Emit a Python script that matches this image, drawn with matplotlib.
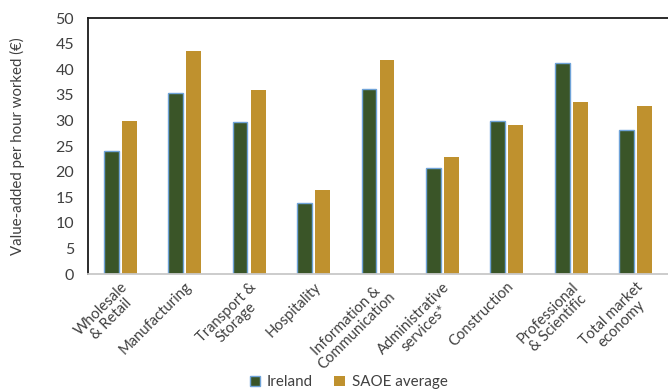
import matplotlib
matplotlib.use("Agg")
import matplotlib.pyplot as plt
import numpy as np

categories = ["Wholesale\n& Retail", "Manufacturing", "Transport &\nStorage", "Hospitality",
              "Information &\nCommunication", "Administrative\nservices*", "Construction",
              "Professional\n& Scientific", "Total market\neconomy"]
ireland = [24.1, 35.3, 29.6, 13.8, 36.1, 20.8, 29.8, 41.3, 28.1]
saoe = [29.9, 43.6, 35.9, 16.4, 41.8, 22.9, 29.1, 33.6, 32.8]
yticks = list(range(0, 51, 5))

plt.rcParams['font.family'] = ['Lato', 'DejaVu Sans']
text_color = '#404040'

fig = plt.figure(figsize=(6.68, 3.9), dpi=100)
ax = fig.add_axes([0.1317, 0.2974, 0.8683, 0.6564])

x = np.arange(len(categories))
w = 0.23
off = 0.14
ax.bar(x - off, ireland, w, color='#3A5528', edgecolor='#6FA3D8', linewidth=1.0, label='Ireland')
ax.bar(x + off, saoe, w, color='#BF912E', label='SAOE average')

ax.set_xlim(-0.5, len(categories) - 0.5)
ax.set_ylim(0, 50)
ax.set_yticks(yticks)
ax.set_xticks(x)
ax.set_xticklabels(categories, rotation=45, ha='right', va='top', rotation_mode='anchor',
                   fontsize=10.6, color=text_color, linespacing=1.05, multialignment='center')
ax.tick_params(axis='y', length=0, labelsize=11.5, labelcolor=text_color, pad=10)
ax.tick_params(axis='x', length=0, pad=4)

ax.spines['right'].set_visible(False)
ax.spines['top'].set_color('#1a1a1a')
ax.spines['left'].set_color('#1a1a1a')
ax.spines['top'].set_linewidth(1.3)
ax.spines['left'].set_linewidth(1.3)
ax.spines['bottom'].set_color('#c8c8c8')
ax.spines['bottom'].set_linewidth(1.3)

ax.set_ylabel('Value-added per hour worked (€)', fontsize=10.8, color=text_color, labelpad=22)

leg = fig.legend(loc='lower center', bbox_to_anchor=(0.522, -0.033), ncol=2, frameon=False,
                 fontsize=10.9, handlelength=0.7, handleheight=0.7, columnspacing=1.4,
                 handletextpad=0.45)
for t in leg.get_texts():
    t.set_color(text_color)

fig.savefig('out.png', dpi=100)
